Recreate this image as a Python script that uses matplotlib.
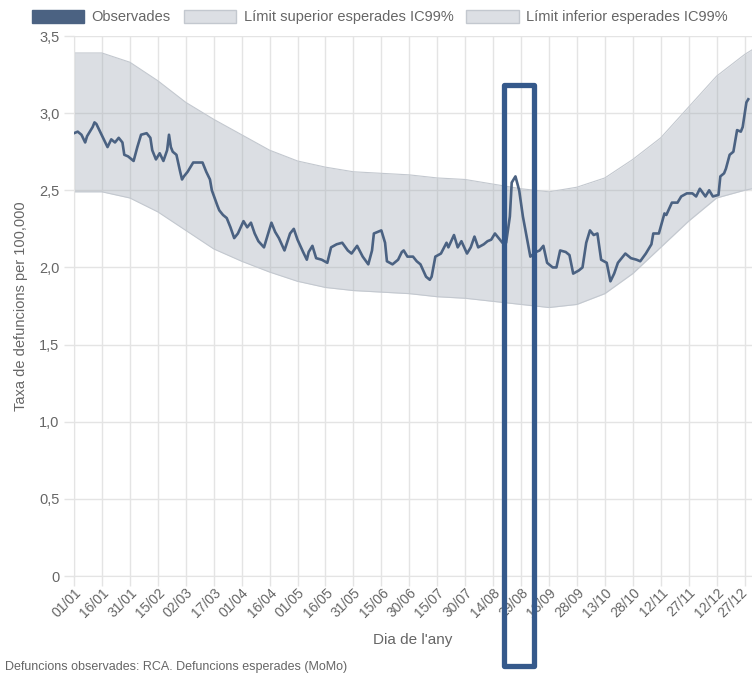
import matplotlib
matplotlib.use("Agg")
import matplotlib.pyplot as plt
import matplotlib.transforms as mtransforms
from matplotlib.patches import Rectangle, Patch

plt.rcParams['font.family'] = ['Liberation Sans', 'DejaVu Sans']

# dies (index 0 = 01/01) i valors observats
obs_dies = [0, 2, 4, 6, 7, 10, 11, 12, 14, 16, 18, 20, 22, 24, 26, 27, 29, 32, 34, 36,
            39, 41, 42, 44, 46, 48, 50, 51, 52, 53, 55, 57, 58, 59, 61, 64, 66, 69, 71, 73,
            74, 77, 78, 80, 82, 84, 86, 88, 91, 93, 95, 97, 99, 102, 104, 106, 108, 110, 113, 116,
            118, 120, 123, 125, 126, 128, 130, 133, 136, 138, 141, 144, 147, 149, 152, 155, 158, 160, 161, 165,
            167, 168, 171, 174, 176, 177, 179, 182, 184, 186, 189, 191, 192, 194, 197, 200, 201, 204, 206, 208,
            211, 213, 215, 217, 220, 222, 224, 226, 228, 230, 232, 234, 235, 237, 239, 241, 243, 245, 248, 250,
            252, 254, 257, 259, 261, 264, 266, 268, 271, 273, 275, 277, 279, 281, 283, 286, 288, 290, 292, 296,
            299, 302, 304, 307, 310, 311, 314, 317, 318, 321, 324, 326, 329, 332, 334, 336, 339, 341, 343, 346,
            347, 349, 350, 352, 354, 356, 358, 359, 361, 362]
observades = [2.87, 2.88, 2.86, 2.81, 2.85, 2.91, 2.94, 2.93, 2.88, 2.83, 2.78, 2.83, 2.81, 2.84, 2.81, 2.73, 2.72, 2.69, 2.78, 2.86,
              2.87, 2.84, 2.76, 2.70, 2.74, 2.69, 2.76, 2.86, 2.78, 2.75, 2.73, 2.62, 2.57, 2.59, 2.62, 2.68, 2.68, 2.68, 2.62, 2.57,
              2.50, 2.40, 2.37, 2.34, 2.32, 2.26, 2.19, 2.22, 2.30, 2.26, 2.29, 2.22, 2.17, 2.13, 2.21, 2.29, 2.23, 2.19, 2.11, 2.22,
              2.25, 2.18, 2.10, 2.05, 2.10, 2.14, 2.06, 2.05, 2.03, 2.13, 2.15, 2.16, 2.11, 2.09, 2.14, 2.07, 2.02, 2.11, 2.22, 2.24,
              2.16, 2.04, 2.02, 2.05, 2.10, 2.11, 2.07, 2.07, 2.04, 2.02, 1.94, 1.92, 1.94, 2.07, 2.09, 2.16, 2.13, 2.21, 2.13, 2.17,
              2.09, 2.13, 2.20, 2.13, 2.15, 2.17, 2.18, 2.22, 2.19, 2.16, 2.16, 2.33, 2.55, 2.59, 2.50, 2.33, 2.20, 2.07, 2.10, 2.11,
              2.14, 2.03, 2.00, 2.00, 2.11, 2.10, 2.08, 1.96, 1.98, 2.00, 2.16, 2.24, 2.21, 2.22, 2.05, 2.03, 1.91, 1.96, 2.03, 2.09,
              2.06, 2.05, 2.04, 2.09, 2.15, 2.22, 2.22, 2.35, 2.34, 2.42, 2.42, 2.46, 2.48, 2.48, 2.46, 2.51, 2.46, 2.50, 2.46, 2.47,
              2.59, 2.61, 2.64, 2.73, 2.75, 2.89, 2.88, 2.91, 3.07, 3.09]

# limits esperats IC99%
banda_dies = [0, 15, 30, 45, 60, 75, 90, 105, 120, 135, 150, 165, 180, 195, 210, 225, 240,
              255, 270, 285, 300, 315, 330, 345, 360, 364]
lim_sup = [3.39, 3.39, 3.33, 3.21, 3.07, 2.96, 2.86, 2.76, 2.69, 2.65, 2.62, 2.61, 2.60,
           2.58, 2.57, 2.54, 2.51, 2.49, 2.52, 2.58, 2.70, 2.84, 3.04, 3.24, 3.38, 3.41]
lim_inf = [2.49, 2.49, 2.45, 2.36, 2.24, 2.12, 2.04, 1.97, 1.91, 1.87, 1.85, 1.84, 1.83,
           1.81, 1.80, 1.78, 1.76, 1.74, 1.76, 1.83, 1.96, 2.13, 2.30, 2.45, 2.50, 2.51]

etiquetes = ['01/01', '16/01', '31/01', '15/02', '02/03', '17/03', '01/04', '16/04', '01/05',
             '16/05', '31/05', '15/06', '30/06', '15/07', '30/07', '14/08', '29/08', '13/09',
             '28/09', '13/10', '28/10', '12/11', '27/11', '12/12', '27/12']
y_ticks = [0, 0.5, 1.0, 1.5, 2.0, 2.5, 3.0, 3.5]
y_labels = ['0', '0,5', '1,0', '1,5', '2,0', '2,5', '3,0', '3,5']

c_linia = '#4b6282'
c_banda = '#9aa3b0'
c_vora = '#c3c8cf'
c_grid = '#e4e4e4'
c_text = '#666666'

fig = plt.figure(figsize=(7.52, 6.74), dpi=100)
ax = fig.add_axes([74 / 752, 1 - 576 / 674, 678 / 752, 540 / 674])

ax.fill_between(banda_dies, lim_inf, lim_sup, color=c_banda, alpha=0.35, linewidth=0, zorder=2)
ax.plot(banda_dies, lim_sup, color=c_vora, lw=0.8, zorder=2)
ax.plot(banda_dies, lim_inf, color=c_vora, lw=0.8, zorder=2)
ax.plot(obs_dies, observades, color=c_linia, lw=1.9, zorder=3)

ax.set_xlim(0, 364)
ax.set_ylim(0, 3.5)
ax.set_xticks(range(0, 361, 15))
ax.set_xticklabels(etiquetes, rotation=45, ha='right', rotation_mode='anchor',
                   fontsize=10, color=c_text)
ax.set_yticks(y_ticks)
ax.set_yticklabels(y_labels, fontsize=10.5, color=c_text)
ax.tick_params(axis='both', length=7, color=c_grid, width=1)
ax.tick_params(axis='x', pad=0)
ax.grid(True, color=c_grid, lw=1, zorder=0)
ax.set_axisbelow(True)
for s in ['top', 'right']:
    ax.spines[s].set_visible(False)
for s in ['left', 'bottom']:
    ax.spines[s].set_color(c_grid)

# l'ultima etiqueta queda enganxada a la vora: la movem una mica
ultima = ax.get_xticklabels()[-1]
ultima.set_transform(ultima.get_transform() + mtransforms.ScaledTranslation(-4 / 100, 0, fig.dpi_scale_trans))

ax.set_ylabel('Taxa de defuncions per 100,000', fontsize=10.5, color=c_text, labelpad=8)
ax.set_xlabel("Dia de l'any", fontsize=11, color=c_text, labelpad=9)

handles = [Patch(facecolor=c_linia, edgecolor=c_linia),
           Patch(facecolor='#dcdfe4', edgecolor=c_vora),
           Patch(facecolor='#dcdfe4', edgecolor=c_vora)]
fig.legend(handles, ['Observades', 'Límit superior esperades IC99%', 'Límit inferior esperades IC99%'],
           loc='upper center', bbox_to_anchor=(0.505, 1.005), ncol=3, frameon=False,
           fontsize=10.5, labelcolor=c_text, handlelength=3.6, handleheight=1.0,
           handletextpad=0.5, columnspacing=0.9)

fig.text(5 / 752, 1 - 667 / 674, 'Defuncions observades: RCA. Defuncions esperades (MoMo)',
         fontsize=9, color=c_text, va='center', ha='left')

# requadre de remarca
fig.add_artist(Rectangle((504 / 752, 1 - 666 / 674), 30 / 752, 581 / 674, transform=fig.transFigure,
                         fill=False, edgecolor='#35598b', lw=3.8, joinstyle='round', zorder=10))

fig.savefig('out.png', dpi=100)
